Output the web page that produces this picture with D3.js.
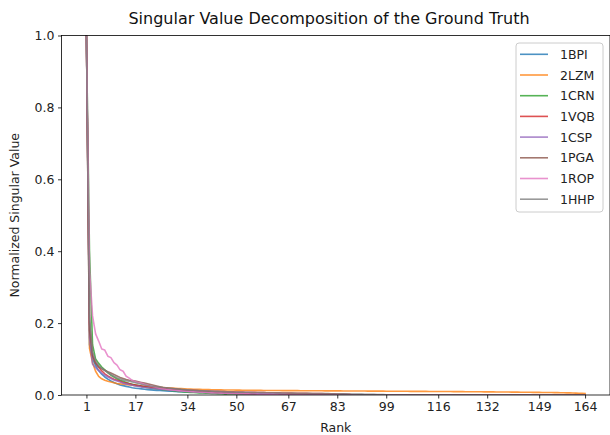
<!DOCTYPE html>
<html>
<head>
<meta charset="utf-8">
<script src="https://cdn.jsdelivr.net/npm/d3@7"></script>
<style>
  body { margin: 0; background: #fff; }
  svg { display: block; font-family: "DejaVu Sans", sans-serif; }
</style>
</head>
<body>
<svg></svg>
<script>
var width = 610;
var height = 435;

// proteins and their colours (matplotlib tab10)
var proteins = ["1BPI", "2LZM", "1CRN", "1VQB", "1CSP", "1PGA", "1ROP", "1HHP"];
var colors = ["#1f77b4", "#ff7f0e", "#2ca02c", "#d62728", "#9467bd", "#8c564b", "#e377c2", "#7f7f7f"];

var xTicks = [1, 17, 34, 50, 67, 83, 99, 116, 132, 149, 164];
var yTicks = [0, 0.2, 0.4, 0.6, 0.8, 1.0];
var maxRank = 164;

// normalized singular values, rank 1..n (zero beyond n)
var sv1BPI = [1, 0.14, 0.10, 0.082, 0.068, 0.058, 0.05, 0.044, 0.039, 0.035,
  0.031, 0.028, 0.026, 0.024, 0.022, 0.02, 0.019, 0.018, 0.017, 0.016,
  0.015, 0.0143, 0.0136, 0.013, 0.0124, 0.0118, 0.0113, 0.0108, 0.0103, 0.0099,
  0.0095, 0.0091, 0.0087, 0.0084, 0.0081, 0.0078, 0.0075, 0.0072, 0.0069, 0.0067,
  0.0064, 0.0062, 0.006, 0.0057, 0.0055, 0.0053, 0.0051, 0.0049, 0.0047, 0.0045,
  0.0043, 0.0041, 0.0039, 0.0037, 0.0034, 0.0031, 0.0028, 0.0024];

var sv2LZM = [1, 0.13, 0.09, 0.066, 0.052, 0.045, 0.041, 0.038, 0.036, 0.034,
  0.032, 0.031, 0.030, 0.029, 0.028, 0.027, 0.026, 0.025, 0.024, 0.0235,
  0.023, 0.0225, 0.022, 0.0215, 0.021, 0.0205, 0.020, 0.0195, 0.019, 0.0185,
  0.018, 0.0176, 0.0172, 0.0168, 0.0165, 0.0162, 0.0159, 0.0156, 0.0154, 0.0152,
  0.015, 0.0148, 0.0146, 0.0144, 0.0142, 0.014, 0.0139, 0.0138, 0.0137, 0.0136,
  0.0135, 0.0134, 0.0133, 0.0132, 0.0131, 0.013, 0.0129, 0.0128, 0.0127, 0.0126,
  0.0125, 0.0125, 0.0124, 0.0124, 0.0123, 0.0123, 0.0122, 0.0122, 0.0121, 0.0121,
  0.012, 0.012, 0.0119, 0.0119, 0.0118, 0.0118, 0.0117, 0.0117, 0.0116, 0.0116,
  0.0115, 0.0115, 0.0114, 0.0114, 0.0113, 0.0113, 0.0112, 0.0112, 0.0111, 0.0111,
  0.011, 0.011, 0.0109, 0.0109, 0.0108, 0.0108, 0.0107, 0.0107, 0.0106, 0.0106,
  0.0105, 0.0105, 0.0104, 0.0104, 0.0103, 0.0103, 0.0102, 0.0102, 0.0101, 0.0101,
  0.01, 0.01, 0.0099, 0.0099, 0.0098, 0.0098, 0.0097, 0.0097, 0.0096, 0.0096,
  0.0095, 0.0094, 0.0094, 0.0093, 0.0092, 0.0092, 0.0091, 0.009, 0.009, 0.0089,
  0.0088, 0.0088, 0.0087, 0.0086, 0.0085, 0.0085, 0.0084, 0.0083, 0.0082, 0.0081,
  0.008, 0.0079, 0.0078, 0.0077, 0.0076, 0.0075, 0.0074, 0.0073, 0.0072, 0.0071,
  0.007, 0.0069, 0.0068, 0.0066, 0.0065, 0.0063, 0.0062, 0.006, 0.0058, 0.0056,
  0.0053, 0.005, 0.0046, 0.004];

var sv1CRN = [1, 0.40, 0.14, 0.10, 0.088, 0.078, 0.07, 0.062, 0.055, 0.05,
  0.045, 0.041, 0.038, 0.035, 0.032, 0.03, 0.028, 0.026, 0.024, 0.022,
  0.02, 0.019, 0.018, 0.017, 0.016, 0.015, 0.014, 0.013, 0.012, 0.011,
  0.01, 0.0092, 0.0085, 0.0079, 0.0073, 0.0068, 0.0063, 0.0058, 0.0054, 0.005,
  0.0047, 0.0044, 0.0041, 0.0038, 0.0034, 0.003];

var sv1VQB = [1, 0.2, 0.11, 0.09, 0.077, 0.067, 0.059, 0.053, 0.048, 0.044,
  0.041, 0.038, 0.035, 0.033, 0.031, 0.029, 0.028, 0.026, 0.025, 0.024,
  0.023, 0.022, 0.021, 0.02, 0.0192, 0.0184, 0.0177, 0.017, 0.0164, 0.0158,
  0.0152, 0.0147, 0.0142, 0.0137, 0.0132, 0.0128, 0.0124, 0.012, 0.0116, 0.0112,
  0.0109, 0.0106, 0.0103, 0.01, 0.0097, 0.0094, 0.0091, 0.0089, 0.0086, 0.0084,
  0.0082, 0.008, 0.0078, 0.0076, 0.0074, 0.0072, 0.007, 0.0068, 0.0066, 0.0064,
  0.0062, 0.0061, 0.0059, 0.0058, 0.0056, 0.0055, 0.0053, 0.0052, 0.005, 0.0049,
  0.0047, 0.0046, 0.0044, 0.0043, 0.0041, 0.004, 0.0038, 0.0037, 0.0035, 0.0034,
  0.0032, 0.003, 0.0028, 0.0026, 0.0024, 0.0021, 0.0018];

var sv1CSP = [1, 0.16, 0.086, 0.076, 0.068, 0.061, 0.055, 0.05, 0.046, 0.042,
  0.039, 0.036, 0.033, 0.031, 0.029, 0.027, 0.025, 0.024, 0.022, 0.021,
  0.02, 0.019, 0.018, 0.017, 0.0162, 0.0154, 0.0147, 0.014, 0.0133, 0.0127,
  0.0121, 0.0115, 0.011, 0.0105, 0.01, 0.0096, 0.0092, 0.0088, 0.0084, 0.008,
  0.0077, 0.0074, 0.0071, 0.0068, 0.0065, 0.0062, 0.006, 0.0057, 0.0055, 0.0053,
  0.0051, 0.0049, 0.0047, 0.0045, 0.0043, 0.0041, 0.0039, 0.0037, 0.0035, 0.0033,
  0.0031, 0.0029, 0.0027, 0.0025, 0.0022, 0.0019, 0.0016];

var sv1PGA = [1, 0.18, 0.11, 0.088, 0.079, 0.073, 0.069, 0.065, 0.061, 0.057,
  0.053, 0.049, 0.046, 0.043, 0.041, 0.04, 0.039, 0.037, 0.035, 0.033,
  0.031, 0.029, 0.027, 0.025, 0.023, 0.021, 0.02, 0.019, 0.018, 0.017,
  0.016, 0.015, 0.0142, 0.0134, 0.0126, 0.0119, 0.0112, 0.0106, 0.01, 0.0094,
  0.0088, 0.0083, 0.0078, 0.0073, 0.0068, 0.0064, 0.006, 0.0056, 0.0052, 0.0048,
  0.0044, 0.004, 0.0036, 0.0032, 0.0027, 0.0022];

var sv1ROP = [1, 0.35, 0.22, 0.17, 0.15, 0.128, 0.125, 0.108, 0.104, 0.09,
  0.083, 0.07, 0.066, 0.052, 0.047, 0.04, 0.037, 0.035, 0.033, 0.03,
  0.027, 0.025, 0.023, 0.021, 0.019, 0.0175, 0.016, 0.015, 0.014, 0.013,
  0.0121, 0.0113, 0.0106, 0.0099, 0.0093, 0.0087, 0.0082, 0.0077, 0.0072, 0.0068,
  0.0064, 0.006, 0.0057, 0.0054, 0.0051, 0.0048, 0.0045, 0.0043, 0.004, 0.0038,
  0.0036, 0.0034, 0.0032, 0.003, 0.0028, 0.0026, 0.0024, 0.0022, 0.002, 0.0018,
  0.0016, 0.0013, 0.001];

var sv1HHP = [1, 0.22, 0.12, 0.095, 0.082, 0.074, 0.068, 0.062, 0.057, 0.052,
  0.048, 0.045, 0.042, 0.04, 0.038, 0.036, 0.034, 0.032, 0.03, 0.028,
  0.026, 0.025, 0.024, 0.023, 0.022, 0.021, 0.02, 0.019, 0.0182, 0.0174,
  0.0166, 0.0159, 0.0152, 0.0146, 0.014, 0.0134, 0.0129, 0.0124, 0.0119, 0.0115,
  0.0111, 0.0107, 0.0103, 0.01, 0.0097, 0.0094, 0.0091, 0.0088, 0.0085, 0.0083,
  0.0081, 0.0079, 0.0077, 0.0075, 0.0073, 0.0071, 0.0069, 0.0067, 0.0065, 0.0064,
  0.0062, 0.0061, 0.0059, 0.0058, 0.0056, 0.0055, 0.0054, 0.0052, 0.0051, 0.005,
  0.0048, 0.0047, 0.0046, 0.0045, 0.0043, 0.0042, 0.0041, 0.004, 0.0038, 0.0037,
  0.0036, 0.0035, 0.0033, 0.0032, 0.0031, 0.003, 0.0028, 0.0027, 0.0026, 0.0024,
  0.0023, 0.0021, 0.002, 0.0018, 0.0017, 0.0015, 0.0013, 0.0011, 0.0008];

var seriesValues = [sv1BPI, sv2LZM, sv1CRN, sv1VQB, sv1CSP, sv1PGA, sv1ROP, sv1HHP];

var margin = { left: 61.5, right: 610, top: 35.5, bottom: 395 };

var x = d3.scaleLinear()
    .domain([1 - 0.05 * (maxRank - 1), maxRank + 0.05 * (maxRank - 1)])
    .range([margin.left, margin.right]);

var y = d3.scaleLinear()
    .domain([0, 1])
    .range([margin.bottom, margin.top]);

var svg = d3.select("svg")
    .attr("width", width)
    .attr("height", height);

svg.append("defs").append("clipPath")
    .attr("id", "plot-clip")
  .append("rect")
    .attr("x", margin.left)
    .attr("y", margin.top)
    .attr("width", margin.right - margin.left)
    .attr("height", margin.bottom - margin.top);

// build points per series; values past the last rank are zero up to maxRank
var series = proteins.map((name, i) => {
  var vals = seriesValues[i];
  var pts = vals.map((v, j) => [j + 1, v]);
  if (vals.length < maxRank) {
    pts.push([vals.length + 1, 0]);
    pts.push([maxRank, 0]);
  }
  return { name: name, color: colors[i], points: pts };
});

var line = d3.line()
    .x(d => x(d[0]))
    .y(d => y(d[1]));

svg.append("g")
    .attr("clip-path", "url(#plot-clip)")
  .selectAll("path")
  .data(series)
  .enter()
  .append("path")
    .attr("d", d => line(d.points))
    .attr("fill", "none")
    .attr("stroke", d => d.color)
    .attr("stroke-opacity", 0.8)
    .attr("stroke-width", 1.6)
    .attr("stroke-linejoin", "round")
    .attr("stroke-linecap", "square");

// axes
var xAxis = svg.append("g")
    .attr("transform", `translate(0, ${margin.bottom})`)
    .call(d3.axisBottom(x).tickValues(xTicks).tickFormat(d3.format("d")).tickSizeOuter(0).tickSize(3.5).tickPadding(3.5));

var yAxis = svg.append("g")
    .attr("transform", `translate(${margin.left}, 0)`)
    .call(d3.axisLeft(y).tickValues(yTicks).tickFormat(d3.format(".1f")).tickSizeOuter(0).tickSize(3.5).tickPadding(3.5));

[xAxis, yAxis].forEach(g => {
  g.select(".domain").remove();
  g.selectAll(".tick line").attr("stroke", "#000").attr("stroke-width", 0.8);
  g.selectAll(".tick text")
    .attr("fill", "#222")
    .style("font-size", "12.5px")
    .style("font-family", "'DejaVu Sans', sans-serif");
});

// frame
svg.append("rect")
    .attr("x", margin.left)
    .attr("y", margin.top)
    .attr("width", margin.right - margin.left)
    .attr("height", margin.bottom - margin.top)
    .attr("fill", "none")
    .attr("stroke", "#000")
    .attr("stroke-width", 0.8);

// titles
svg.append("text")
    .attr("x", 329)
    .attr("y", 24)
    .attr("text-anchor", "middle")
    .attr("fill", "#111")
    .style("font-size", "16px")
    .text("Singular Value Decomposition of the Ground Truth");

svg.append("text")
    .attr("x", (margin.left + margin.right) / 2)
    .attr("y", 432)
    .attr("text-anchor", "middle")
    .attr("fill", "#222")
    .style("font-size", "12.5px")
    .text("Rank");

svg.append("text")
    .attr("transform", `translate(19, ${(margin.top + margin.bottom) / 2}) rotate(-90)`)
    .attr("text-anchor", "middle")
    .attr("fill", "#222")
    .style("font-size", "12.5px")
    .text("Normalized Singular Value");

// legend
var legend = svg.append("g").attr("transform", "translate(516, 43)");

legend.append("rect")
    .attr("width", 87)
    .attr("height", 169)
    .attr("rx", 3)
    .attr("fill", "#fff")
    .attr("fill-opacity", 0.8)
    .attr("stroke", "#ccc")
    .attr("stroke-width", 1);

var items = legend.selectAll(".item")
  .data(series)
  .enter()
  .append("g")
    .attr("transform", (d, i) => `translate(0, ${11.3 + i * 20.7})`);

items.append("line")
    .attr("x1", 4)
    .attr("x2", 32)
    .attr("stroke", d => d.color)
    .attr("stroke-opacity", 0.8)
    .attr("stroke-width", 1.6);

items.append("text")
    .attr("x", 44)
    .attr("dy", "0.36em")
    .attr("fill", "#222")
    .style("font-size", "12.5px")
    .text(d => d.name);
</script>
</body>
</html>
